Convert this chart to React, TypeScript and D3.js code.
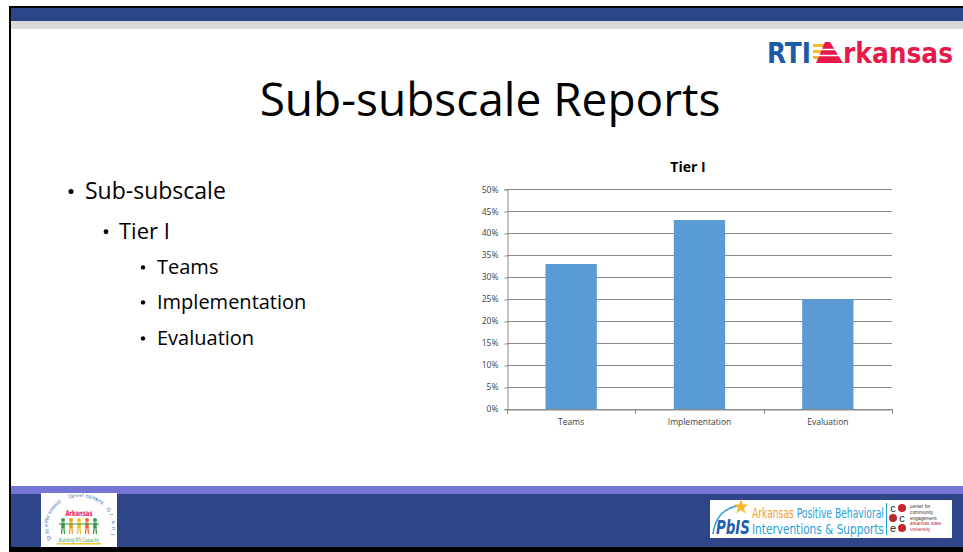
import React, { useEffect, useRef } from 'react';
import * as d3 from 'd3';

// chart data
const categories = ['Teams', 'Implementation', 'Evaluation'];
const scores = [0.33, 0.43, 0.25];
const yTickValues = [0, 0.05, 0.1, 0.15, 0.2, 0.25, 0.3, 0.35, 0.4, 0.45, 0.5];
const chartTitle = 'Tier I';

// slide text
const slideTitle = 'Sub-subscale Reports';
const bulletTexts = ['Sub-subscale', 'Tier I', 'Teams', 'Implementation', 'Evaluation'];
const bulletLevels = [0, 1, 2, 2, 2];
const arcWords = ['State', 'Personnel', 'Development', 'Grant'];
const cceLines = ['center for', 'community', 'engagement', 'arkansas state', 'university'];

const WIDTH = 963;
const HEIGHT = 552;
const PLOT = { left: 507, right: 892, top: 189.3, bottom: 409 };
const FONT = '"Open Sans", "Noto Sans", sans-serif';
const NARROW = '"Liberation Sans Narrow", "DejaVu Sans Condensed", sans-serif';
const SMALL = '"Liberation Sans", Arial, sans-serif';

const LEVEL_STYLE = [
  { dotX: 71, textX: 85, size: 23 },
  { dotX: 106, textX: 119, size: 22 },
  { dotX: 143, textX: 157, size: 20 }
];
const BULLET_BASELINES = [199, 239, 274, 309, 345];
// angle span (degrees from top) of each word on the logo ring
const ARC_SPANS: [number, number][] = [[-118, -92], [-84, -38], [-20, 40], [54, 105]];

type TextSel = d3.Selection<SVGTextElement, unknown, null, undefined>;

// squeeze a text horizontally so it spans `width` px, anchored at (x, y)
const fitWidth = (sel: TextSel, x: number, y: number, width: number) => {
  const natural = (sel.node() as SVGTextElement).getComputedTextLength() || width;
  sel.attr('transform', `translate(${x},${y}) scale(${width / natural},1)`);
};

const App: React.FC = () => {
  const svgRef = useRef<SVGSVGElement>(null);

  useEffect(() => {
    if (!svgRef.current) return;
    document.body.style.margin = '0';

    const svg = d3.select(svgRef.current);
    svg.selectAll('*').remove();

    // Slide frame
    svg.append('rect').attr('width', WIDTH).attr('height', HEIGHT).attr('fill', '#fff');
    svg.append('rect').attr('x', 11).attr('y', 8).attr('width', WIDTH - 11).attr('height', 13).attr('fill', '#2c4586');
    svg.append('rect').attr('x', 11).attr('y', 21).attr('width', WIDTH - 11).attr('height', 8).attr('fill', '#d9d9d9');
    svg.append('rect').attr('x', 11).attr('y', 486).attr('width', WIDTH - 11).attr('height', 8).attr('fill', '#7676d6');
    svg.append('rect').attr('x', 11).attr('y', 494).attr('width', WIDTH - 11).attr('height', 53).attr('fill', '#2e4588');
    svg.append('rect').attr('x', 9).attr('y', 6).attr('width', WIDTH - 9).attr('height', 2).attr('fill', '#000');
    svg.append('rect').attr('x', 9).attr('y', 6).attr('width', 2).attr('height', HEIGHT - 6).attr('fill', '#000');
    svg.append('rect').attr('x', 9).attr('y', 547).attr('width', WIDTH - 9).attr('height', 5).attr('fill', '#000');

    // RTI Arkansas logo
    const logo = svg.append('g');
    [44, 50, 56].forEach(yy => {
      logo.append('rect').attr('x', 813).attr('y', yy).attr('width', 13).attr('height', 3).attr('fill', '#f6b92b');
    });
    logo.append('polygon').attr('points', '825,42 830,42 843,63 816,63').attr('fill', '#e6194b');
    [49.5, 55.5].forEach(yy => {
      logo.append('line').attr('x1', 818).attr('x2', 840).attr('y1', yy).attr('y2', yy)
        .attr('stroke', '#fff').attr('stroke-width', 1.5);
    });
    const rti = logo.append('text')
      .attr('font-family', NARROW).attr('font-weight', 'bold').attr('font-size', 28)
      .attr('fill', '#1b5aa6').text('RTI');
    fitWidth(rti, 767, 63, 44);
    const rk = logo.append('text')
      .attr('font-family', NARROW).attr('font-weight', 'bold').attr('font-size', 28)
      .attr('fill', '#e6194b').text('rkansas');
    fitWidth(rk, 843, 63, 110);

    // Slide title
    svg.append('text')
      .attr('x', 490).attr('y', 116)
      .attr('text-anchor', 'middle')
      .attr('font-family', FONT).attr('font-size', 46)
      .attr('fill', '#000').text(slideTitle);

    // Bullets
    bulletTexts.forEach((t, i) => {
      const st = LEVEL_STYLE[bulletLevels[i]];
      const by = BULLET_BASELINES[i];
      svg.append('circle')
        .attr('cx', st.dotX).attr('cy', by - st.size * 0.33).attr('r', st.size * 0.11)
        .attr('fill', '#000');
      svg.append('text')
        .attr('x', st.textX).attr('y', by)
        .attr('font-family', FONT).attr('font-size', st.size)
        .attr('fill', '#000').text(t);
    });

    // Chart
    const x = d3.scaleBand<string>()
      .domain(categories)
      .range([PLOT.left, PLOT.right])
      .paddingInner(0.6)
      .paddingOuter(0.3);

    const y = d3.scaleLinear()
      .domain([0, 0.5])
      .range([PLOT.bottom, PLOT.top]);

    const chart = svg.append('g');

    chart.append('text')
      .attr('x', 688).attr('y', 172)
      .attr('text-anchor', 'middle')
      .attr('font-family', FONT).attr('font-weight', 'bold').attr('font-size', 14)
      .attr('fill', '#000').text(chartTitle);

    // gridlines
    chart.selectAll('.grid')
      .data(yTickValues)
      .enter()
      .append('line')
      .attr('x1', PLOT.left).attr('x2', PLOT.right)
      .attr('y1', d => Math.round(y(d)) + 0.5).attr('y2', d => Math.round(y(d)) + 0.5)
      .attr('stroke', '#8a8a8a').attr('stroke-width', 1);

    // bars
    chart.selectAll('.bar')
      .data(categories)
      .enter()
      .append('rect')
      .attr('x', d => x(d) as number)
      .attr('y', (d, i) => y(scores[i]))
      .attr('width', x.bandwidth())
      .attr('height', (d, i) => PLOT.bottom - y(scores[i]))
      .attr('fill', '#5b9bd5');

    // y axis
    const yAxis = d3.axisLeft(y)
      .tickValues(yTickValues)
      .tickSize(3)
      .tickFormat(d3.format('.0%') as any);

    const yG = chart.append('g')
      .attr('transform', `translate(${PLOT.left + 0.5},0)`)
      .call(yAxis);
    yG.select('.domain').attr('stroke', '#8a8a8a');
    yG.selectAll('.tick line').attr('stroke', '#8a8a8a')
      .attr('transform', d => `translate(0,${Math.round(y(d as number)) + 0.5 - y(d as number)})`);
    yG.selectAll('.tick text')
      .attr('x', -9)
      .attr('font-family', FONT).attr('font-size', 8.5).attr('fill', '#404040');

    // x axis
    const xAxis = d3.axisBottom(x).tickSize(0).tickPadding(9);
    const xG = chart.append('g')
      .attr('transform', `translate(0,${Math.round(PLOT.bottom) + 0.5})`)
      .call(xAxis);
    xG.select('.domain').attr('stroke', '#8a8a8a');
    xG.selectAll('.tick text')
      .attr('font-family', FONT).attr('font-size', 8.5).attr('fill', '#404040');

    const bounds = d3.range(categories.length + 1).map(i => PLOT.left + i * x.step());
    chart.selectAll('.xtick')
      .data(bounds)
      .enter()
      .append('line')
      .attr('x1', d => Math.round(d) + 0.5).attr('x2', d => Math.round(d) + 0.5)
      .attr('y1', Math.round(PLOT.bottom)).attr('y2', Math.round(PLOT.bottom) + 5)
      .attr('stroke', '#8a8a8a');

    // Bottom-left logo
    const left = svg.append('g');
    left.append('rect').attr('x', 41).attr('y', 493).attr('width', 76).attr('height', 54).attr('fill', '#fff');
    const people = ['#3b9a48', '#f39a1e', '#f2c21b', '#ef6b2a', '#3b9a48'];
    people.forEach((c, i) => {
      const cx = 63 + i * 8;
      left.append('circle').attr('cx', cx).attr('cy', 520).attr('r', 2).attr('fill', c);
      left.append('rect').attr('x', cx - 1.8).attr('y', 522.5).attr('width', 3.6).attr('height', 6).attr('fill', c);
      left.append('line').attr('x1', cx - 1).attr('x2', cx - 1.5).attr('y1', 528.5).attr('y2', 534).attr('stroke', c).attr('stroke-width', 1.3);
      left.append('line').attr('x1', cx + 1).attr('x2', cx + 1.5).attr('y1', 528.5).attr('y2', 534).attr('stroke', c).attr('stroke-width', 1.3);
    });
    left.append('line').attr('x1', 59).attr('x2', 99).attr('y1', 524).attr('y2', 524).attr('stroke', '#3b9a48').attr('stroke-width', 1);
    left.append('rect').attr('x', 57).attr('y', 543).attr('width', 44).attr('height', 1.5).attr('fill', '#f6c343');

    // ring lettering, one word per text so the boxes stay small
    arcWords.forEach((word, w) => {
      const chars = word.split('');
      const [a0, a1] = ARC_SPANS[w];
      const angle = d3.scaleLinear().domain([0, Math.max(1, chars.length - 1)]).range([a0, a1]);
      const ax = chars.map((c, i) => 80 + 32 * Math.sin(angle(i) * Math.PI / 180));
      const ay = chars.map((c, i) => 526 - 29 * Math.cos(angle(i) * Math.PI / 180));
      left.append('text')
        .attr('x', ax.map(v => v.toFixed(1)).join(' '))
        .attr('y', ay.map(v => v.toFixed(1)).join(' '))
        .attr('rotate', chars.map((c, i) => angle(i).toFixed(0)).join(' '))
        .attr('font-family', SMALL).attr('font-size', 5.5).attr('fill', '#3a78c2')
        .text(word);
    });
    const ark = left.append('text')
      .attr('text-anchor', 'middle')
      .attr('font-family', NARROW).attr('font-weight', 'bold').attr('font-size', 8)
      .attr('fill', '#e6194b').text('Arkansas');
    fitWidth(ark, 79, 516, 27);
    const slogan = left.append('text')
      .attr('text-anchor', 'middle')
      .attr('font-family', NARROW).attr('font-size', 6)
      .attr('fill', '#3b9a48')
      .text('Building RTI Capacity');
    fitWidth(slogan, 79, 541.5, 40);

    // Bottom-right logo
    const right = svg.append('g');
    right.append('rect').attr('x', 710).attr('y', 500).attr('width', 242).attr('height', 38).attr('fill', '#fff');
    right.append('path').attr('d', 'M 713 534 Q 716 508 742 505').attr('fill', 'none')
      .attr('stroke', '#2a9fd8').attr('stroke-width', 1.5);
    const star = d3.symbol().type(d3.symbolStar).size(70);
    right.append('path').attr('d', star() as string).attr('transform', 'translate(741,507)').attr('fill', '#f6b92b');
    const pbis = right.append('text')
      .attr('font-family', NARROW).attr('font-weight', 'bold').attr('font-style', 'italic').attr('font-size', 19)
      .attr('fill', '#1f5fae').text('PbIS');
    fitWidth(pbis, 716, 534, 34);
    const l1 = right.append('text')
      .attr('font-family', NARROW).attr('font-size', 13.5);
    l1.append('tspan').attr('fill', '#f39c1f').text('Arkansas ');
    l1.append('tspan').attr('fill', '#2a9fd8').text('Positive Behavioral');
    fitWidth(l1, 752, 518, 132);
    const l2 = right.append('text')
      .attr('font-family', NARROW).attr('font-size', 13.5)
      .attr('fill', '#2a9fd8').text('Interventions & Supports');
    fitWidth(l2, 752, 534, 132);
    right.append('line').attr('x1', 886.5).attr('x2', 886.5).attr('y1', 503).attr('y2', 535)
      .attr('stroke', '#2a9fd8').attr('stroke-width', 1);

    const cells = [['c', 'dot'], ['dot', 'c'], ['e', 'dot']];
    cells.forEach((row, r) => {
      row.forEach((k, c) => {
        const cx = 893 + c * 9;
        const cy = 508 + r * 10;
        if (k === 'dot') {
          right.append('circle').attr('cx', cx).attr('cy', cy).attr('r', 4).attr('fill', '#c1272d');
        } else {
          right.append('text').attr('x', cx).attr('y', cy + 3.5).attr('text-anchor', 'middle')
            .attr('font-family', SMALL).attr('font-size', 11).attr('fill', '#222').text(k);
        }
      });
    });
    cceLines.forEach((t, i) => {
      right.append('text')
        .attr('x', 910).attr('y', 508 + i * 5.8)
        .attr('font-family', SMALL).attr('font-size', 4.8)
        .attr('fill', i < 3 ? '#333' : '#c1272d').text(t);
    });
  }, []);

  return (
    <svg
      ref={svgRef}
      width={WIDTH}
      height={HEIGHT}
      style={{ position: 'absolute', left: 0, top: 0, display: 'block' }}
    />
  );
};

export default App;
